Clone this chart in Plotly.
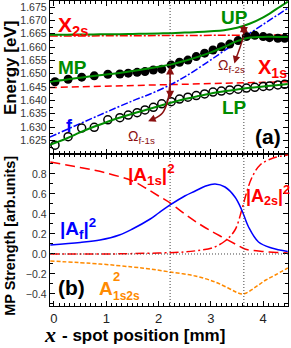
import plotly.graph_objects as go

# ---------------- data ----------------
MP_X = [0.02, 0.27, 0.53, 0.77, 1.03, 1.26, 1.42, 1.59, 1.74, 1.90, 2.06, 2.24, 2.40,
        2.56, 2.72, 2.88, 3.04, 3.20, 3.36, 3.52, 3.68, 3.84, 4.00, 4.12, 4.28, 4.41]
MP_E = [1.6470, 1.6479, 1.6487, 1.6492, 1.6498, 1.6499, 1.6502, 1.6505, 1.6508, 1.6514,
        1.6517, 1.6533, 1.6543, 1.6551, 1.6564, 1.6577, 1.6589, 1.6601, 1.6611, 1.6624,
        1.6639, 1.6644, 1.6639, 1.6635, 1.6633, 1.6633]
LP_X = MP_X
LP_E = [1.6232, 1.6264, 1.6296, 1.6299, 1.6327, 1.6335, 1.6345, 1.6354, 1.6364, 1.6374,
        1.6387, 1.6395, 1.6405, 1.6412, 1.6418, 1.6424, 1.6431, 1.6435, 1.6439, 1.6442,
        1.6446, 1.6449, 1.6452, 1.6454, 1.6458, 1.6460]

FIT_X = [-0.08, 0.25, 0.5, 0.75, 1.0, 1.25, 1.5, 1.75, 2.0, 2.25, 2.5, 2.75, 3.0, 3.25,
         3.5, 3.75, 4.0, 4.25, 4.47]
MP_FIT = [1.6470, 1.6478, 1.6485, 1.6491, 1.6497, 1.6503, 1.6510, 1.6518, 1.6526, 1.6535,
          1.6548, 1.6563, 1.6580, 1.6600, 1.6622, 1.6636, 1.6638, 1.6638, 1.6638]
LP_FIT = [1.6233, 1.6258, 1.6280, 1.6300, 1.6318, 1.6335, 1.6350, 1.6364, 1.6378, 1.6392,
          1.6405, 1.6416, 1.6426, 1.6434, 1.6441, 1.6447, 1.6452, 1.6457, 1.6461]
UP_FIT = [1.6646, 1.6646, 1.6647, 1.6647, 1.6648, 1.6648, 1.6649, 1.6650, 1.6651, 1.6652,
          1.6654, 1.6656, 1.6659, 1.6663, 1.6672, 1.6688, 1.6711, 1.6742, 1.6770]

X2S_X = [-0.08, 4.47]
X2S_E = [1.6641, 1.6645]
X1S_X = [-0.08, 4.47]
X1S_E = [1.6448, 1.6470]
F_X = [-0.08, 0.5, 1.0, 1.5, 1.84, 2.22, 2.5, 3.0, 3.55, 4.0, 4.47]
F_E = [1.6262, 1.6313, 1.6356, 1.6398, 1.6424, 1.6458, 1.6488, 1.6552, 1.6626, 1.6685, 1.6745]

A1S_X = [-0.07, 0.5, 1.0, 1.5, 1.75, 2.0, 2.22, 2.5, 2.75, 3.0, 3.25, 3.5, 3.65, 3.8, 4.0, 4.25, 4.47]
A1S = [0.92, 0.865, 0.81, 0.73, 0.66, 0.58, 0.51, 0.40, 0.31, 0.23, 0.16, 0.09, 0.05, 0.035, 0.025, 0.015, 0.01]
AF_X = [-0.07, 0.5, 0.88, 1.25, 1.5, 1.84, 2.0, 2.22, 2.5, 2.7, 2.9, 3.08, 3.27, 3.46, 3.59, 3.72, 3.91, 4.16, 4.47]
AF = [0.09, 0.115, 0.14, 0.19, 0.25, 0.35, 0.41, 0.49, 0.58, 0.63, 0.68, 0.70, 0.67, 0.57, 0.44, 0.27, 0.12, 0.06, 0.025]
A2S_X = [-0.07, 1.0, 2.0, 2.5, 2.75, 3.02, 3.27, 3.46, 3.59, 3.68, 3.78, 3.94, 4.19, 4.47]
A2S = [0.0, 0.0, 0.01, 0.02, 0.035, 0.06, 0.13, 0.24, 0.44, 0.61, 0.76, 0.89, 0.96, 0.99]
A12_X = [-0.07, 0.88, 1.5, 1.84, 2.22, 2.7, 3.08, 3.33, 3.5, 3.6, 3.68, 3.8, 3.91, 4.05, 4.23, 4.47]
A12 = [-0.07, -0.10, -0.13, -0.15, -0.18, -0.22, -0.28, -0.34, -0.385, -0.40, -0.39, -0.35, -0.31, -0.26, -0.21, -0.14]

X_TICKS = [0, 1, 2, 3, 4]
E_TICKS = [1.625, 1.630, 1.635, 1.640, 1.645, 1.650, 1.655, 1.660, 1.665, 1.670, 1.675]
S_TICKS = [-0.4, -0.2, 0.0, 0.2, 0.4, 0.6, 0.8]
CROSS_X = [2.22, 3.63]

# anticrossing arrows: (x, E_low, E_high)
GAP_ARROWS = [(2.22, 1.6400, 1.6527), (3.63, 1.6639, 1.6685)]
OMEGA1_CURVE_X = [2.21, 2.17, 2.07, 1.90]
OMEGA1_CURVE_E = [1.6452, 1.6395, 1.6352, 1.6330]
OMEGA2_CURVE_X = [3.62, 3.56, 3.50, 3.47]
OMEGA2_CURVE_E = [1.6638, 1.6600, 1.6568, 1.6552]

# ---------------- styling ----------------
FONT = "Liberation Sans, Arial, sans-serif"
RED = "#FF0000"
GREEN = "#008C00"
BLUE = "#0000FF"
ORANGE = "#FF8A00"
DRED = "#8B1010"

fig = go.Figure()

def top(tr):
    tr.update(xaxis="x", yaxis="y", hoverinfo="skip")
    fig.add_trace(tr)

def bot(tr):
    tr.update(xaxis="x2", yaxis="y2", hoverinfo="skip")
    fig.add_trace(tr)

# top panel
top(go.Scatter(x=X2S_X, y=X2S_E, mode="lines",
               line=dict(color=RED, width=1.5, dash="8px,2px,2px,2px")))
top(go.Scatter(x=X1S_X, y=X1S_E, mode="lines",
               line=dict(color=RED, width=1.5, dash="7px,4px")))
top(go.Scatter(x=F_X, y=F_E, mode="lines", line_shape="spline",
               line=dict(color=BLUE, width=1.5, dash="7px,2px,2px,2px")))
top(go.Scatter(x=MP_X, y=MP_E, mode="markers",
               marker=dict(symbol="circle", size=9, color="black")))
top(go.Scatter(x=LP_X, y=LP_E, mode="markers",
               marker=dict(symbol="circle-open", size=8, color="black", line=dict(width=1.5))))
for ys in (MP_FIT, LP_FIT, UP_FIT):
    top(go.Scatter(x=FIT_X, y=ys, mode="lines", line_shape="spline",
                   line=dict(color=GREEN, width=2)))
top(go.Scatter(x=OMEGA1_CURVE_X, y=OMEGA1_CURVE_E, mode="lines", line_shape="spline",
               line=dict(color=DRED, width=1.5)))
top(go.Scatter(x=OMEGA2_CURVE_X, y=OMEGA2_CURVE_E, mode="lines", line_shape="spline",
               line=dict(color=DRED, width=1.5)))

# bottom panel
bot(go.Scatter(x=A1S_X, y=A1S, mode="lines", line_shape="spline",
               line=dict(color=RED, width=1.5, dash="10px,5px")))
bot(go.Scatter(x=A2S_X, y=A2S, mode="lines", line_shape="spline",
               line=dict(color=RED, width=1.5, dash="9px,3px,2px,3px")))
bot(go.Scatter(x=AF_X, y=AF, mode="lines", line_shape="spline",
               line=dict(color=BLUE, width=1.5)))
bot(go.Scatter(x=A12_X, y=A12, mode="lines", line_shape="spline",
               line=dict(color=ORANGE, width=1.5, dash="4px,2px")))

shapes = []
for cx in CROSS_X:
    shapes.append(dict(type="line", xref="x", yref="paper", x0=cx, x1=cx, y0=0, y1=1,
                       line=dict(color="#444", width=1, dash="1px,2px")))
shapes.append(dict(type="line", xref="x2 domain", yref="y2", x0=0, x1=1, y0=0, y1=0,
                   line=dict(color="#444", width=1, dash="1px,2px")))

ann = []

def txt(x, y, s, size, color, xref="x", yref="y", xanchor="center", yanchor="middle",
        angle=0, family=FONT):
    ann.append(dict(x=x, y=y, xref=xref, yref=yref, text=s, showarrow=False,
                    font=dict(family=family, size=size, color=color),
                    xanchor=xanchor, yanchor=yanchor, textangle=angle, borderpad=0))

# top labels
txt(0.05, 1.6680, "<b>X<sub>2s</sub></b>", 21, RED, xanchor="left")
txt(0.36, 1.6525, "<b>MP</b>", 19, GREEN)
txt(0.30, 1.6303, "<b>f</b>", 18, BLUE)
txt(3.46, 1.6710, "<b>UP</b>", 19, GREEN)
txt(3.89, 1.6520, "<b>X<sub>1s</sub></b>", 20, RED, xanchor="left")
txt(3.46, 1.6374, "<b>LP</b>", 19, GREEN)
txt(4.09, 1.6263, "<b>(a)</b>", 21, "black")
txt(1.40, 1.6262, "Ω<sub>f-1s</sub>", 14, DRED, xanchor="left")
txt(3.12, 1.6527, "Ω<sub>f-2s</sub>", 14, DRED, xanchor="left")

# bottom labels
txt(1.40, 0.79, "<b>|A<sub>1s</sub>|<sup>2</sup></b>", 19, RED, xref="x2", yref="y2", xanchor="left")
txt(0.10, 0.25, "<b>|A<sub>f</sub>|<sup>2</sup></b>", 19, BLUE, xref="x2", yref="y2", xanchor="left")
txt(3.65, 0.58, "<b>|A<sub>2s</sub>|<sup>2</sup></b>", 18, RED, xref="x2", yref="y2", xanchor="left")
txt(0.84, -0.345, "<b>A</b>", 19, ORANGE, xref="x2", yref="y2", xanchor="left")
txt(1.11, -0.225, "<b>2</b>", 13, ORANGE, xref="x2", yref="y2", xanchor="left")
txt(1.11, -0.42, "<b>1s2s</b>", 12, ORANGE, xref="x2", yref="y2", xanchor="left")
txt(0.33, -0.34, "<b>(b)</b>", 21, "black", xref="x2", yref="y2")

# axis titles
txt(-0.168, 0.78, "<b>Energy [eV]</b>", 17, "black", xref="paper", yref="paper", angle=-90)
txt(-0.168, 0.23, "<b>MP Strength [arb.units]</b>", 14.5, "black", xref="paper", yref="paper", angle=-90)
txt(-0.03, -0.095, "<b><i>x</i></b>", 22, "black", xref="paper", yref="paper",
    family="Liberation Serif, serif", xanchor="left")
txt(0.048, -0.097, "<b>- spot position [mm]</b>", 17, "black", xref="paper", yref="paper",
    xanchor="left")

# gap arrows
for gx, lo, hi in GAP_ARROWS:
    ann.append(dict(x=gx, y=hi, ax=gx, ay=lo, xref="x", yref="y", axref="x", ayref="y",
                    text="", showarrow=True, arrowhead=2, arrowsize=1, arrowwidth=1.6,
                    arrowside="end+start", arrowcolor=DRED))
# curved-arrow heads
ann.append(dict(x=1.80, y=1.6322, ax=OMEGA1_CURVE_X[-1], ay=OMEGA1_CURVE_E[-1],
                xref="x", yref="y", axref="x", ayref="y", text="", showarrow=True,
                arrowhead=2, arrowsize=1, arrowwidth=1.5, arrowcolor=DRED))
ann.append(dict(x=3.45, y=1.6538, ax=OMEGA2_CURVE_X[-1], ay=OMEGA2_CURVE_E[-1],
                xref="x", yref="y", axref="x", ayref="y", text="", showarrow=True,
                arrowhead=2, arrowsize=1, arrowwidth=1.5, arrowcolor=DRED))

SPLIT = 0.4984
axis_common = dict(showline=True, linecolor="black", linewidth=1.3, mirror="ticks",
                   ticks="inside", ticklen=5, tickwidth=1, tickcolor="black",
                   showgrid=False, zeroline=False, automargin=False, showspikes=False)

fig.update_layout(
    width=291, height=348,
    margin=dict(l=50, r=3, t=1, b=42, autoexpand=False),
    paper_bgcolor="white", plot_bgcolor="white",
    showlegend=False,
    hovermode=False,
    dragmode=False,
    font=dict(family=FONT, size=11, color="#222"),
    xaxis=dict(anchor="y", domain=[0, 1], range=[-0.076, 4.474], tickvals=X_TICKS,
               showticklabels=False, matches="x2",
               minor=dict(dtick=0.1, ticks="inside", ticklen=3, tickcolor="black"),
               **axis_common),
    yaxis=dict(anchor="x", domain=[SPLIT, 1], range=[1.6199, 1.67725], tickvals=E_TICKS,
               tickformat=".3f", tickfont=dict(size=10.5, color="#333"),
               minor=dict(dtick=0.0025, ticks="inside", ticklen=3, tickcolor="black"),
               **axis_common),
    xaxis2=dict(anchor="y2", domain=[0, 1], range=[-0.076, 4.474], tickvals=X_TICKS,
                tickfont=dict(size=13, color="#222"),
                minor=dict(dtick=0.1, ticks="inside", ticklen=3, tickcolor="black"),
                **axis_common),
    yaxis2=dict(anchor="x2", domain=[0, SPLIT], range=[-0.52, 1.0], tickvals=S_TICKS,
                tickformat=".1f", tickfont=dict(size=10.5, color="#333"),
                minor=dict(dtick=0.1, ticks="inside", ticklen=3, tickcolor="black"),
                **axis_common),
    shapes=shapes,
    annotations=ann,
)

fig.write_html("out.html",
               config={"displayModeBar": False, "staticPlot": True},
               post_script="document.body.style.margin='0';document.body.style.padding='0';")
